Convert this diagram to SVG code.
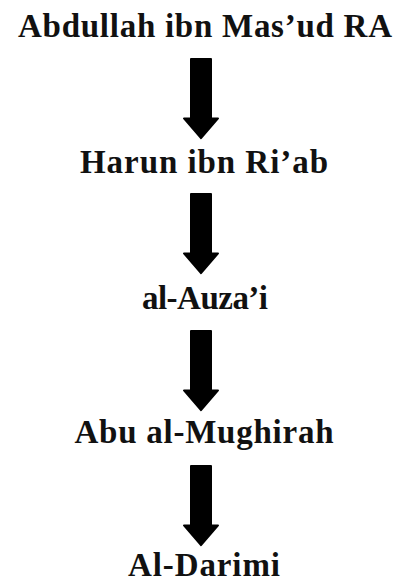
<svg xmlns="http://www.w3.org/2000/svg" width="397" height="583" viewBox="0 0 397 583">
<style>
.t{font-family:"Liberation Serif","Times New Roman",serif;font-weight:bold;font-size:33px;fill:#111;text-anchor:middle}
.a{fill:#000;stroke:#000;stroke-width:2;stroke-linejoin:round}
</style>
<defs>
<path id="arr" d="M-10,0 H10 V60 H17 L0,80 L-17,60 H-10 Z"/>
</defs>
<rect width="397" height="583" fill="#fff"/>
<g id="connectors">
<use href="#arr" class="a" transform="translate(201,59) scale(1,0.99)"/>
<use href="#arr" class="a" transform="translate(201,194) scale(1,0.99)"/>
<use href="#arr" class="a" transform="translate(201,331) scale(1,0.99)"/>
<use href="#arr" class="a" transform="translate(201,466) scale(1,0.99)"/>
</g>
<g id="n1"><text class="t" x="205" y="37" textLength="374">Abdullah ibn Mas’ud RA</text></g>
<g id="n2"><text class="t" x="204" y="173" textLength="248">Harun ibn Ri’ab</text></g>
<g id="n3"><text class="t" x="205" y="309" textLength="126">al-Auza’i</text></g>
<g id="n4"><text class="t" x="204" y="443" textLength="259">Abu al-Mughirah</text></g>
<g id="n5"><text class="t" x="204" y="576" textLength="152">Al-Darimi</text></g>
</svg>
